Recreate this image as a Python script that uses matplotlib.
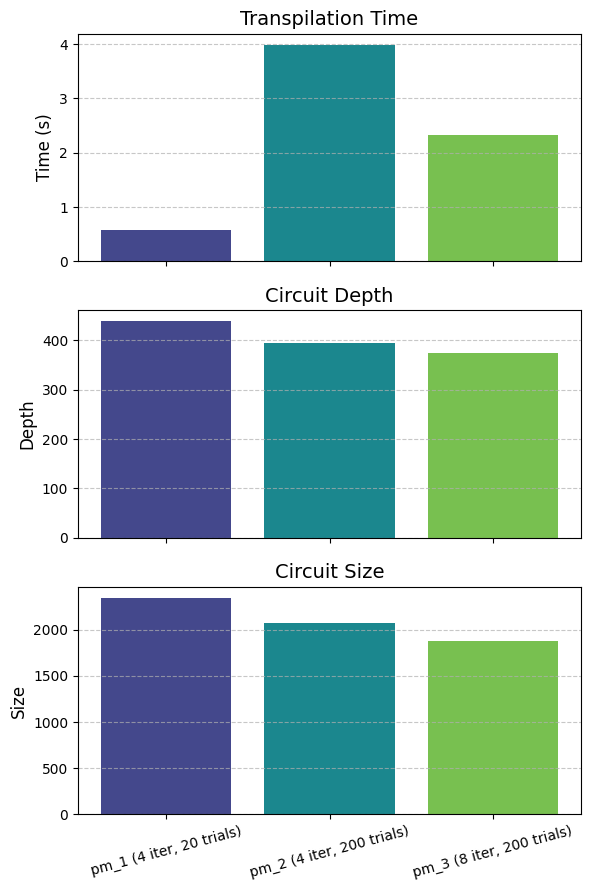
import matplotlib
matplotlib.use("Agg")
import matplotlib.pyplot as plt

labels = ["pm_1 (4 iter, 20 trials)", "pm_2 (4 iter, 200 trials)", "pm_3 (8 iter, 200 trials)"]
times = [0.575, 3.99, 2.32]
depths = [439, 395, 375]
sizes = [2348, 2068, 1875]

# viridis-like colours as they look in the picture
colors = ["#44488c", "#1b878e", "#78c050"]

fig, axes = plt.subplots(3, 1, figsize=(5.9, 8.9), dpi=100, sharex=True)

panels = [
    (times, "Transpilation Time", "Time (s)"),
    (depths, "Circuit Depth", "Depth"),
    (sizes, "Circuit Size", "Size"),
]

for ax, (vals, title, ylab) in zip(axes, panels):
    ax.bar(labels, vals, color=colors)
    ax.set_title(title, fontsize=14)
    ax.set_ylabel(ylab, fontsize=12)
    ax.grid(axis="y", linestyle="--", alpha=0.7)

axes[2].tick_params(axis="x", rotation=15)

fig.subplots_adjust(left=0.132, right=0.985, top=0.962, bottom=0.085, hspace=0.215)
fig.savefig("out.png")
